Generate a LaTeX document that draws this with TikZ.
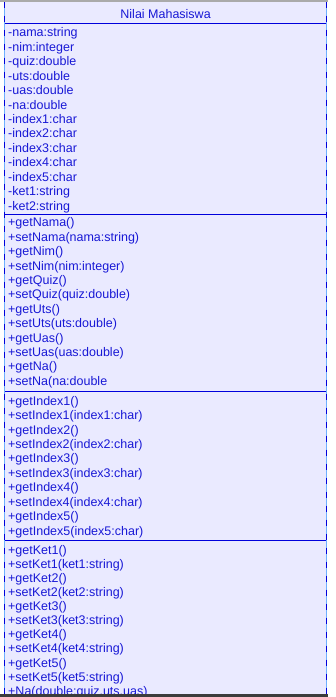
\documentclass[tikz,border=0pt]{standalone}
\usepackage{fontspec}
\setmainfont{Liberation Sans}
\definecolor{umlfill}{RGB}{234,234,255}
\definecolor{umltext}{RGB}{24,24,214}
\definecolor{umlline}{RGB}{0,0,220}
\definecolor{edgelight}{RGB}{110,175,255}
\definecolor{topgray}{RGB}{170,170,170}
\definecolor{botgray}{RGB}{60,60,60}
\tikzset{
  lbl/.style={anchor=base west, inner sep=0pt, text=umltext,
    font=\fontsize{12.5}{14}\selectfont},
  sepline/.style={draw=umlline, line width=1pt},
  edgebase/.style={draw=edgelight, line width=1.2pt},
  edgedash/.style={draw=umlline, line width=1.2pt, dash pattern=on 6pt off 8pt},
}
\begin{document}
\begin{tikzpicture}[x=1pt,y=-1pt]
  \useasboundingbox[fill=white] (0,0) rectangle (336,697);
  % class body
  \fill[umlfill] (4.5,0) rectangle (326.7,694);
  % compartment separators
  \draw[sepline] (4.5,23.5) -- (326.7,23.5);
  \draw[sepline] (4.5,214) -- (326.7,214);
  \draw[sepline] (4.5,391) -- (326.7,391);
  \draw[sepline] (4.5,540.3) -- (326.7,540.3);
  % title
  \node[lbl, anchor=base] (title) at (165.6,18.3) {Nilai Mahasiswa};
  \begin{scope}
    \clip (4.5,0) rectangle (326.7,694);
    % attributes
    \foreach \t [count=\i from 0] in {-nama:string,-nim:integer,-quiz:double,-uts:double,-uas:double,-na:double,-index1:char,-index2:char,-index3:char,-index4:char,-index5:char,-ket1:string,-ket2:string}
      \node[lbl] (attr-\i) at (8,36.8+\i*14.45) {\t};
    % accessors for scores
    \foreach \t [count=\i from 0] in {+getNama(),+setNama(nama:string),+getNim(),+setNim(nim:integer),+getQuiz(),+setQuiz(quiz:double),+getUts(),+setUts(uts:double),+getUas(),+setUas(uas:double),+getNa(),+setNa(na:double}
      \node[lbl] (opa-\i) at (8,226.8+\i*14.4) {\t};
    % accessors for grade indices
    \foreach \t [count=\i from 0] in {+getIndex1(),+setIndex1(index1:char),+getIndex2(),+setIndex2(index2:char),+getIndex3(),+setIndex3(index3:char),+getIndex4(),+setIndex4(index4:char),+getIndex5(),+getIndex5(index5:char)}
      \node[lbl] (opb-\i) at (8,405.2+\i*14.44) {\t};
    % accessors for remarks
    \foreach \t [count=\i from 0] in {+getKet1(),+setKet1(ket1:string),+getKet2(),+setKet2(ket2:string),+getKet3(),+setKet3(ket3:string),+getKet4(),+setKet4(ket4:string),+getKet5(),+setKet5(ket5:string),{+Na(double:quiz,uts,uas)}}
      \node[lbl] (opc-\i) at (8,554.2+\i*14.1) {\t};
  \end{scope}
  % side edges: light line with dark dashes
  \draw[edgebase] (4.5,1.5) -- (4.5,694);
  \draw[edgedash] (4.5,1.5) -- (4.5,694);
  \draw[edgebase] (326.7,1.5) -- (326.7,694);
  \draw[edgedash] (326.7,1.5) -- (326.7,694);
  % top and bottom frame lines
  \draw[topgray, line width=1.5pt] (0,0.75) -- (327.5,0.75);
  \draw[botgray, line width=3pt] (0,695.5) -- (328,695.5);
\end{tikzpicture}
\end{document}
